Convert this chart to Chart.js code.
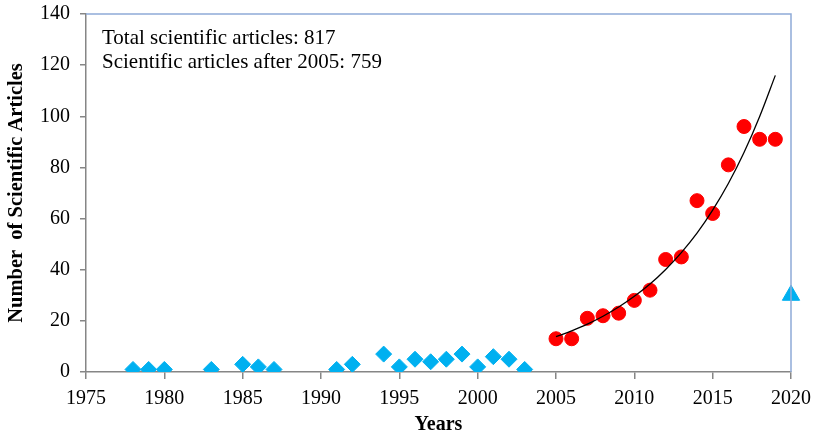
<!DOCTYPE html>
<html>
<head>
<meta charset="utf-8">
<script src="https://cdn.jsdelivr.net/npm/chart.js@4.4.1/dist/chart.umd.min.js"></script>
<style>
  html, body { margin: 0; padding: 0; background: #fff; }
  #wrap { width: 814px; height: 438px; }
</style>
</head>
<body>
<div id="wrap"><canvas id="chart"></canvas></div>
<script>
// Articles before 2005 (blue diamonds)
const earlyYears = [1978, 1979, 1980, 1983, 1985, 1986, 1987, 1991, 1992, 1994, 1995, 1996, 1997, 1998, 1999, 2000, 2001, 2002, 2003];
const earlyCounts = [1, 1, 1, 1, 3, 2, 1, 1, 3, 7, 2, 5, 4, 5, 7, 2, 6, 5, 1];

// Articles from 2005 (red circles)
const recentYears = [2005, 2006, 2007, 2008, 2009, 2010, 2011, 2012, 2013, 2014, 2015, 2016, 2017, 2018, 2019];
const recentCounts = [13, 13, 21, 22, 23, 28, 32, 44, 45, 67, 62, 81, 96, 91, 91];

// Exponential trend line
const trendValues = [13.8, 16.1, 18.7, 21.8, 25.4, 29.6, 34.4, 40.1, 46.7, 54.3, 63.3, 73.7, 85.8, 99.9, 116];

// Partial year (blue triangle)
const partialYear = [2020];
const partialCount = [30];

const infoLines = ['Total scientific articles: 817', 'Scientific articles after 2005: 759'];

const serif = "'Liberation Serif', 'Times New Roman', serif";
const axisGray = '#868686';
const frameBlue = '#8eaad8';

const toPoints = (xs, ys) => xs.map((x, i) => ({ x: x, y: ys[i] }));

// Top / right frame lines and the text box
const framePlugin = {
    id: 'frame',
    afterDraw(chart) {
        const { ctx, chartArea } = chart;
        ctx.save();
        ctx.strokeStyle = frameBlue;
        ctx.lineWidth = 1.5;
        ctx.beginPath();
        ctx.moveTo(chartArea.left, chartArea.top);
        ctx.lineTo(chartArea.right, chartArea.top);
        ctx.lineTo(chartArea.right, chartArea.bottom);
        ctx.stroke();

        ctx.fillStyle = '#000';
        ctx.font = '21px ' + serif;
        ctx.textBaseline = 'middle';
        infoLines.forEach((line, i) => {
            ctx.fillText(line, chartArea.left + 16, chartArea.top + 24 + i * 24);
        });
        ctx.restore();
    }
};

new Chart(document.getElementById('chart'), {
    type: 'scatter',
    data: {
        datasets: [{
            type: 'line',
            data: toPoints(recentYears, trendValues),
            borderColor: '#000',
            borderWidth: 1.3,
            pointRadius: 0,
            fill: false,
            cubicInterpolationMode: 'monotone',
            order: 0
        }, {
            data: toPoints(earlyYears, earlyCounts),
            pointStyle: 'rectRot',
            pointRadius: 8,
            backgroundColor: '#00b0f0',
            borderColor: '#00b0f0',
            borderWidth: 1,
            order: 1
        }, {
            data: toPoints(recentYears, recentCounts),
            pointStyle: 'circle',
            pointRadius: 7,
            backgroundColor: '#ff0000',
            borderColor: '#ff0000',
            borderWidth: 1,
            order: 2
        }, {
            data: toPoints(partialYear, partialCount),
            pointStyle: 'triangle',
            pointRadius: 10,
            backgroundColor: '#00b0f0',
            borderColor: '#00b0f0',
            borderWidth: 1,
            clip: false,
            order: 3
        }]
    },
    options: {
        responsive: true,
        maintainAspectRatio: false,
        animation: false,
        layout: {
            padding: { top: 14, right: 23, left: 0, bottom: 0 }
        },
        plugins: {
            legend: { display: false },
            tooltip: { enabled: false }
        },
        scales: {
            x: {
                type: 'linear',
                min: 1975,
                max: 2020,
                afterFit: s => { s.height = 66; s.paddingLeft = 0; s.paddingRight = 0; },
                border: { color: axisGray, width: 1.5 },
                grid: { drawOnChartArea: false, color: axisGray, tickLength: 7, lineWidth: 1.5 },
                ticks: {
                    stepSize: 5,
                    color: '#000',
                    padding: 8,
                    font: { family: serif, size: 20 },
                    callback: v => String(v)
                },
                title: {
                    display: true,
                    text: 'Years',
                    color: '#000',
                    padding: { top: 0, bottom: 1 },
                    font: { family: serif, size: 20, weight: 'bold' }
                }
            },
            y: {
                min: 0,
                max: 140,
                afterFit: s => { s.width = 86; s.paddingTop = 0; s.paddingBottom = 0; },
                border: { color: axisGray, width: 1.5 },
                grid: { drawOnChartArea: false, color: axisGray, tickLength: 6, lineWidth: 1.5 },
                ticks: {
                    stepSize: 20,
                    color: '#000',
                    padding: 10,
                    font: { family: serif, size: 20 }
                },
                title: {
                    display: true,
                    text: 'Number  of Scientific Articles',
                    color: '#000',
                    padding: { bottom: 0 },
                    font: { family: serif, size: 20.5, weight: 'bold' }
                }
            }
        }
    },
    plugins: [framePlugin]
});
</script>
</body>
</html>
